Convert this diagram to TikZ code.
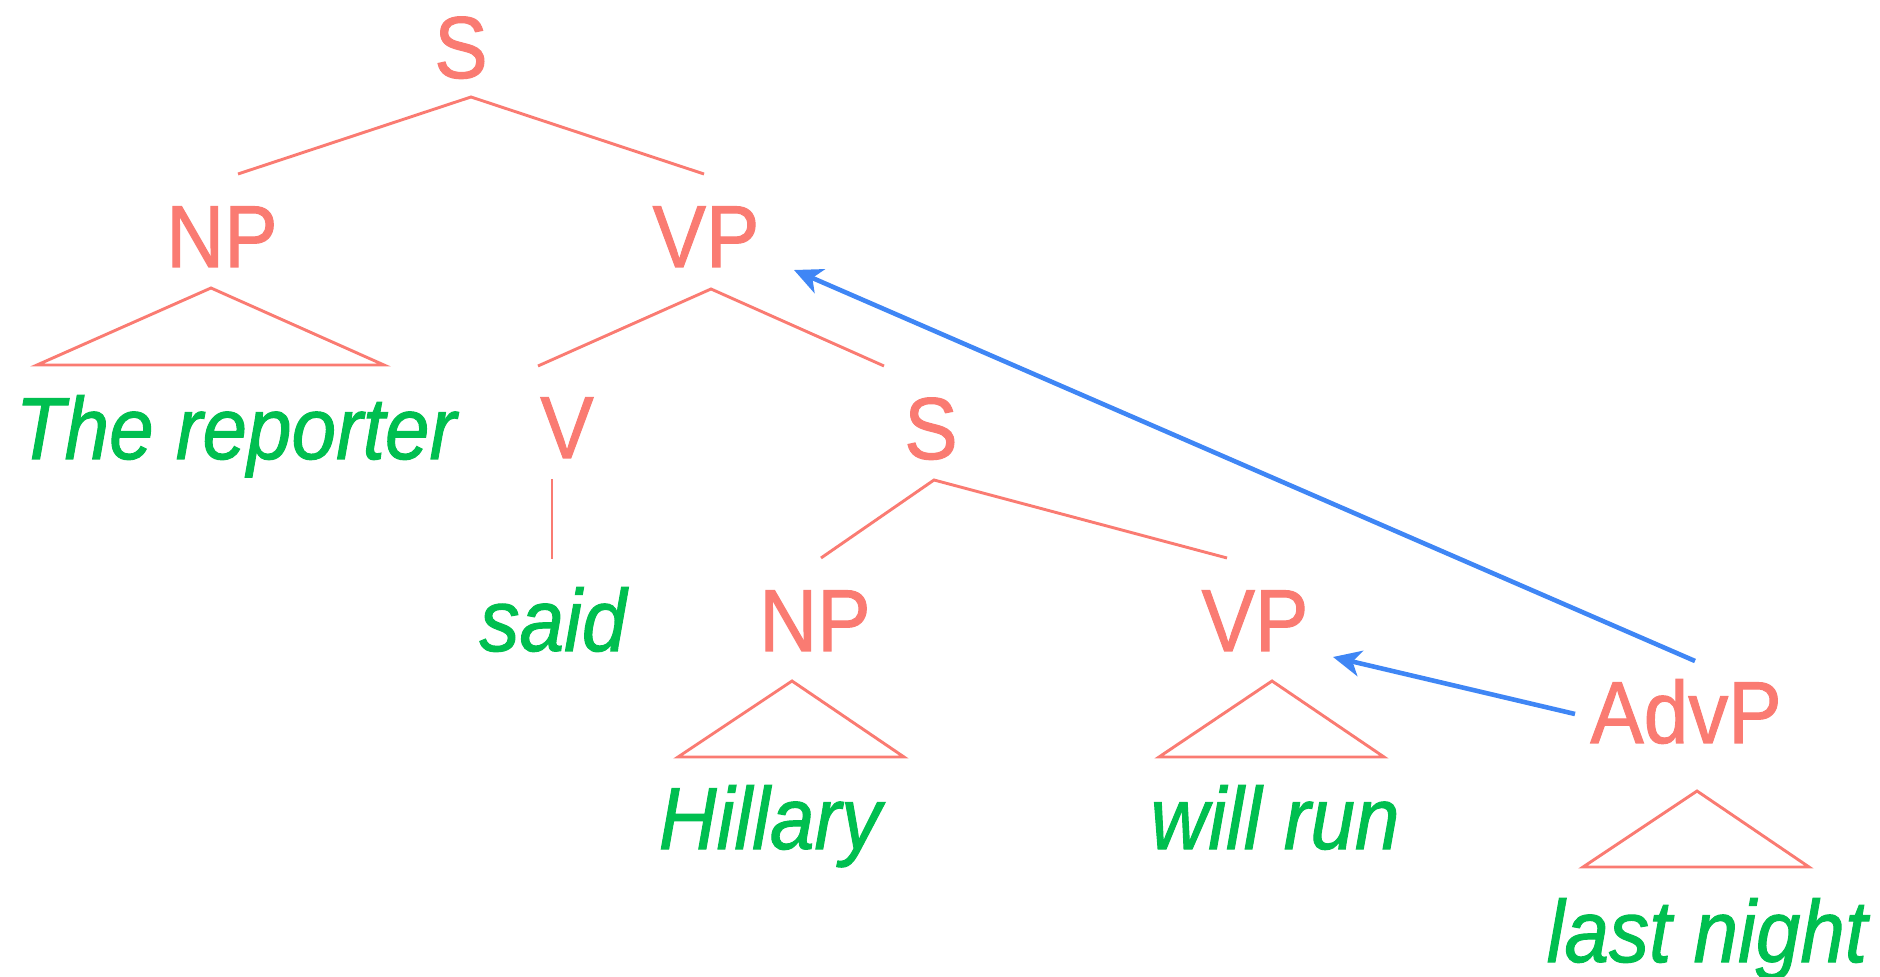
\documentclass[tikz,border=0pt]{standalone}
\usepackage{fontspec}
\usepackage{graphicx}
\setmainfont{Liberation Sans}[FakeBold=1.2]
\usetikzlibrary{arrows.meta}
\definecolor{catred}{HTML}{FA7B72}
\definecolor{wordgreen}{HTML}{00BF50}
\definecolor{moveblue}{HTML}{3F86F5}
% slightly narrowed lettering
\newcommand\narrowtext[1]{\scalebox{0.91}[1]{#1}}
\tikzset{
  cat/.style={anchor=base, inner sep=0pt, text=catred, font=\fontsize{44}{52}\selectfont},
  word/.style={anchor=base, inner sep=0pt, text=wordgreen, font=\fontsize{44}{52}\selectfont\itshape},
  branch/.style={draw=catred, line width=1.45pt},
  roof/.style={draw=catred, line width=1.45pt, line join=miter},
  movearrow/.style={draw=moveblue, line width=2.3pt, -{Stealth[length=14pt, width=13pt, inset=4pt]}}
}
\begin{document}
\begin{tikzpicture}[x=0.5pt, y=-0.5pt]
\useasboundingbox (0,0) rectangle (1880,977);

% category labels
\node[cat] (S0)   at (461,78)   {\narrowtext{S}};
\node[cat] (NP1)  at (222,267)  {\narrowtext{NP}};
\node[cat] (VP1)  at (706,267)  {\narrowtext{VP}};
\node[cat] (V)    at (567,458)  {\narrowtext{V}};
\node[cat] (S2)   at (931,459)  {\narrowtext{S}};
\node[cat] (NP2)  at (815,651)  {\narrowtext{NP}};
\node[cat] (VP2)  at (1255,651) {\narrowtext{VP}};
\node[cat] (AdvP) at (1686,743) {\narrowtext{AdvP}};

% terminal strings
\node[word] (w1) at (236,459)  {\narrowtext{The reporter}};
\node[word] (w2) at (553,651)  {\narrowtext{said}};
\node[word] (w3) at (770,849)  {\narrowtext{Hillary}};
\node[word] (w4) at (1275,849) {\narrowtext{will run}};
\node[word] (w5) at (1707,962) {\narrowtext{last night}};

% branch attachment points
\coordinate (S0-d)  at (471,97);
\coordinate (NP1-u) at (238,174);
\coordinate (VP1-u) at (704,174);
\coordinate (VP1-d) at (711,289);
\coordinate (V-u)   at (538,366);
\coordinate (S2-u)  at (884,366);
\coordinate (V-d)   at (552,479);
\coordinate (w2-u)  at (552,559);
\coordinate (S2-d)  at (934,480);
\coordinate (NP2-u) at (821,558);
\coordinate (VP2-u) at (1227,558);

% roof corners
\coordinate (NP1-d) at (211,288);
\coordinate (w1-l)  at (37,365);
\coordinate (w1-r)  at (384,365);
\coordinate (NP2-d) at (792,681);
\coordinate (w3-l)  at (678,757);
\coordinate (w3-r)  at (904,757);
\coordinate (VP2-d) at (1272,681);
\coordinate (w4-l)  at (1159,757);
\coordinate (w4-r)  at (1384,757);
\coordinate (AdvP-d) at (1697,791);
\coordinate (w5-l)  at (1583,867);
\coordinate (w5-r)  at (1809,867);

% movement arrow ends
\coordinate (AdvP-up)   at (1695,661);
\coordinate (AdvP-left) at (1575,714);
\coordinate (VP1-in)    at (794,270);
\coordinate (VP2-in)    at (1333,657);

% branches
\draw[branch] (NP1-u) -- (S0-d) -- (VP1-u);
\draw[branch] (V-u) -- (VP1-d) -- (S2-u);
\draw[branch] (V-d) -- (w2-u);
\draw[branch] (NP2-u) -- (S2-d) -- (VP2-u);

% roofs
\draw[roof] (NP1-d) -- (w1-l) -- (w1-r) -- cycle;
\draw[roof] (NP2-d) -- (w3-l) -- (w3-r) -- cycle;
\draw[roof] (VP2-d) -- (w4-l) -- (w4-r) -- cycle;
\draw[roof] (AdvP-d) -- (w5-l) -- (w5-r) -- cycle;

% attachment ambiguity
\draw[movearrow] (AdvP-up) -- (VP1-in);
\draw[movearrow] (AdvP-left) -- (VP2-in);
\end{tikzpicture}
\end{document}
